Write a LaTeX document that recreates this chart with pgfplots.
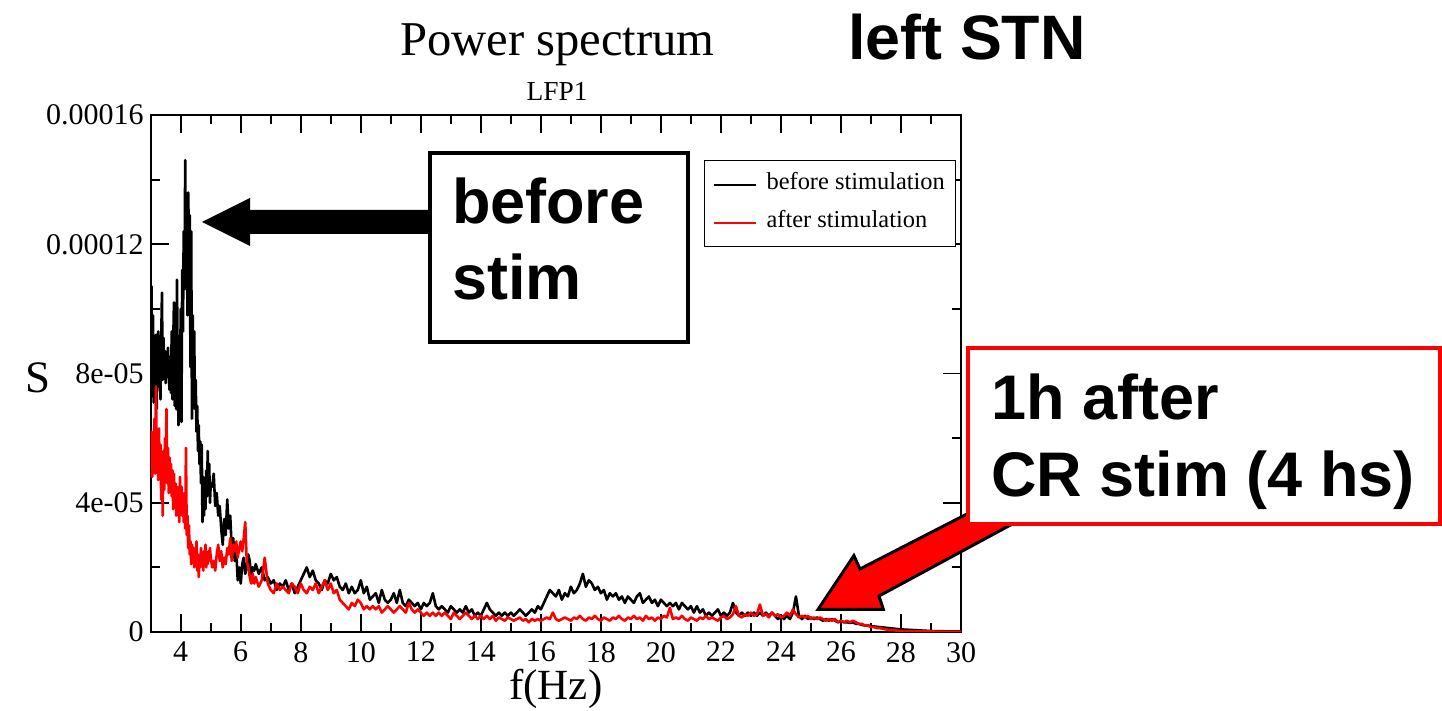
\documentclass[border=0pt]{standalone}
\usepackage{pgfplots}
\pgfplotsset{compat=1.18}
\usepackage{pgfplotstable}
\usepackage{fontspec}
\setmainfont{Liberation Serif}
\newfontfamily\arial{Liberation Sans}

% S in units of 1e-05
\pgfplotstableread{
f s
3.000 9.5
3.025 10.7
3.050 7.3
3.075 9.8
3.100 7.1
3.125 8.9
3.150 7.4
3.175 9.2
3.200 6.9
3.225 8.6
3.250 9.3
3.275 7.6
3.300 8.4
3.325 7.2
3.350 9.0
3.375 10.5
3.400 7.8
3.425 9.1
3.450 8.0
3.475 8.7
3.500 7.7
3.525 8.6
3.550 7.9
3.575 8.8
3.600 8.1
3.625 7.5
3.650 8.5
3.675 7.4
3.700 9.3
3.725 7.2
3.750 8.9
3.775 10.2
3.800 7.0
3.825 9.5
3.850 6.9
3.875 10.9
3.900 8.3
3.925 6.4
3.950 9.0
3.975 7.1
4.000 10.0
4.025 6.5
4.050 11.2
4.075 9.3
4.100 12.4
4.125 10.6
4.150 14.6
4.175 11.5
4.200 12.8
4.225 9.8
4.250 13.6
4.275 12.0
4.300 12.9
4.325 8.2
4.350 12.4
4.375 6.6
4.400 9.8
4.425 7.4
4.450 9.3
4.475 6.9
4.500 7.8
4.525 6.2
4.550 7.0
4.575 5.6
4.600 6.4
4.625 5.2
4.650 5.9
4.675 4.6
4.700 5.8
4.725 3.4
4.750 4.8
4.775 3.6
4.800 4.4
4.825 3.8
4.850 5.0
4.875 4.2
4.900 5.6
4.925 4.3
4.950 5.2
4.975 4.0
5.000 4.6
5.05 4.5
5.10 4.9
5.15 3.9
5.20 4.3
5.25 3.6
5.30 3.9
5.35 3.2
5.40 2.7
5.45 3.5
5.50 3.0
5.55 4.1
5.60 3.2
5.65 3.6
5.70 2.6
5.75 2.9
5.80 2.2
5.85 2.5
5.90 1.6
5.95 2.0
6.00 1.5
6.05 2.1
6.10 2.3
6.15 1.8
6.20 2.0
6.25 2.4
6.30 2.2
6.35 1.7
6.40 2.0
6.45 1.9
6.50 2.1
6.6 1.8
6.7 2.0
6.8 1.6
6.9 1.7
7.0 1.5
7.1 1.6
7.2 1.3
7.3 1.5
7.4 1.4
7.5 1.6
7.6 1.3
7.7 1.5
7.8 1.2
7.9 1.4
8.0 1.6
8.1 1.8
8.2 2.0
8.3 1.7
8.4 1.9
8.5 1.6
8.6 1.5
8.7 1.3
8.8 1.6
8.9 1.5
9.0 1.8
9.1 1.6
9.2 1.7
9.3 1.4
9.4 1.3
9.5 1.5
9.6 1.2
9.7 1.4
9.8 1.2
9.9 1.3
10.0 1.6
10.1 1.2
10.2 1.4
10.3 1.0
10.4 1.1
10.5 1.2
10.6 0.9
10.7 1.3
10.8 1.0
10.9 0.9
11.0 1.0
11.1 1.2
11.2 0.9
11.3 1.3
11.4 0.9
11.5 0.8
11.6 1.0
11.7 0.9
11.8 0.8
11.9 0.9
12.0 0.7
12.1 0.9
12.2 0.8
12.3 0.9
12.4 1.2
12.5 0.8
12.6 0.7
12.7 0.8
12.8 0.7
12.9 0.6
13.0 0.8
13.1 0.7
13.2 0.6
13.3 0.7
13.4 0.6
13.5 0.8
13.6 0.6
13.7 0.7
13.8 0.5
13.9 0.6
14.0 0.5
14.1 0.7
14.2 0.9
14.3 0.7
14.4 0.6
14.5 0.5
14.6 0.6
14.7 0.5
14.8 0.6
14.9 0.5
15.0 0.6
15.1 0.5
15.2 0.6
15.3 0.7
15.4 0.6
15.5 0.5
15.6 0.6
15.7 0.7
15.8 0.6
15.9 0.8
16.0 0.7
16.1 0.9
16.2 1.1
16.3 1.3
16.4 1.2
16.5 1.1
16.6 1.3
16.7 1.0
16.8 1.2
16.9 1.1
17.0 1.4
17.1 1.2
17.2 1.3
17.3 1.5
17.4 1.8
17.5 1.4
17.6 1.6
17.7 1.5
17.8 1.3
17.9 1.4
18.0 1.2
18.1 1.3
18.2 1.0
18.3 1.2
18.4 1.1
18.5 1.2
18.6 1.0
18.7 1.1
18.8 0.9
18.9 1.1
19.0 1.0
19.1 0.9
19.2 1.1
19.3 1.2
19.4 0.9
19.5 1.0
19.6 1.1
19.7 0.9
19.8 1.0
19.9 0.8
20.0 1.0
20.1 0.9
20.2 0.8
20.3 0.9
20.4 0.8
20.5 0.9
20.6 0.7
20.7 0.9
20.8 0.8
20.9 0.7
21.0 0.8
21.1 0.6
21.2 0.8
21.3 0.6
21.4 0.7
21.5 0.5
21.6 0.6
21.7 0.5
21.8 0.6
21.9 0.7
22.0 0.5
22.1 0.6
22.2 0.5
22.3 0.6
22.4 0.9
22.5 0.6
22.6 0.5
22.7 0.6
22.8 0.5
22.9 0.6
23.0 0.5
23.1 0.6
23.2 0.5
23.3 0.6
23.4 0.5
23.5 0.6
23.6 0.5
23.7 0.6
23.8 0.5
23.9 0.4
24.0 0.5
24.1 0.4
24.2 0.5
24.3 0.4
24.4 0.6
24.5 1.1
24.6 0.5
24.7 0.4
24.8 0.5
24.9 0.4
25.0 0.45
25.1 0.4
25.2 0.45
25.3 0.4
25.4 0.35
25.5 0.4
25.6 0.35
25.7 0.4
25.8 0.35
25.9 0.3
26.0 0.35
26.1 0.3
26.2 0.3
26.3 0.28
26.4 0.3
26.5 0.25
26.6 0.25
26.7 0.22
26.8 0.2
26.9 0.2
27.0 0.18
27.2 0.16
27.4 0.14
27.6 0.12
27.8 0.1
28.0 0.08
28.2 0.07
28.4 0.06
28.6 0.05
28.8 0.04
29.0 0.03
29.5 0.02
30.0 0.02
}\beforedata

\pgfplotstableread{
f s
3.000 5.0
3.025 6.2
3.050 4.8
3.075 5.9
3.100 5.1
3.125 6.6
3.150 4.9
3.175 7.6
3.200 5.3
3.225 6.0
3.250 4.7
3.275 6.3
3.300 5.0
3.325 5.8
3.350 4.1
3.375 5.5
3.400 3.6
3.425 5.6
3.450 4.4
3.475 6.0
3.500 4.8
3.525 6.9
3.550 4.6
3.575 5.7
3.600 4.3
3.625 5.4
3.650 4.5
3.675 5.2
3.700 4.2
3.725 5.0
3.750 3.8
3.775 4.9
3.800 4.0
3.825 4.6
3.850 3.6
3.875 4.5
3.900 3.7
3.925 4.2
3.950 3.4
3.975 4.8
4.000 3.9
4.025 4.5
4.050 3.6
4.075 4.3
4.100 3.4
4.125 4.0
4.150 3.2
4.175 5.7
4.200 3.0
4.225 3.6
4.250 2.6
4.275 3.3
4.300 2.4
4.325 2.8
4.350 2.1
4.375 2.7
4.400 2.3
4.425 2.6
4.450 2.0
4.475 2.5
4.500 2.2
4.525 2.8
4.550 1.9
4.575 2.4
4.600 1.7
4.625 2.2
4.650 2.0
4.675 2.6
4.700 2.1
4.725 2.3
4.750 1.9
4.775 2.5
4.800 2.2
4.825 2.7
4.850 2.0
4.875 2.4
4.900 2.1
4.925 2.5
4.950 2.2
4.975 2.6
5.000 2.3
5.05 2.0
5.10 2.2
5.15 1.9
5.20 2.4
5.25 2.7
5.30 2.2
5.35 2.5
5.40 2.0
5.45 2.3
5.50 2.1
5.55 2.6
5.60 2.4
5.65 2.9
5.70 2.2
5.75 2.7
5.80 2.5
5.85 2.8
5.90 2.3
5.95 2.6
6.00 2.8
6.05 2.5
6.10 2.9
6.15 3.4
6.20 2.2
6.25 2.0
6.30 1.7
6.35 1.5
6.40 1.8
6.45 1.5
6.50 1.7
6.6 1.4
6.7 1.6
6.8 2.3
6.9 1.5
7.0 1.3
7.1 1.2
7.2 1.5
7.3 1.3
7.4 1.4
7.5 1.3
7.6 1.2
7.7 1.5
7.8 1.4
7.9 1.2
8.0 1.5
8.1 1.3
8.2 1.2
8.3 1.4
8.4 1.3
8.5 1.5
8.6 1.2
8.7 1.4
8.8 1.6
8.9 1.3
9.0 1.5
9.1 1.2
9.2 1.3
9.3 1.0
9.4 0.9
9.5 0.8
9.6 0.7
9.7 0.9
9.8 0.8
9.9 1.0
10.0 0.9
10.1 0.7
10.2 0.8
10.3 0.7
10.4 0.8
10.5 0.7
10.6 0.8
10.7 0.6
10.8 0.7
10.9 0.8
11.0 0.7
11.1 0.6
11.2 0.7
11.3 0.8
11.4 0.7
11.5 0.6
11.6 0.9
11.7 0.7
11.8 0.6
11.9 0.7
12.0 0.6
12.1 0.5
12.2 0.6
12.3 0.5
12.4 0.6
12.5 0.5
12.6 0.6
12.7 0.5
12.8 0.6
12.9 0.5
13.0 0.4
13.1 0.6
13.2 0.5
13.3 0.4
13.4 0.5
13.5 0.6
13.6 0.5
13.7 0.4
13.8 0.5
13.9 0.4
14.0 0.5
14.1 0.4
14.2 0.5
14.3 0.4
14.4 0.5
14.5 0.35
14.6 0.45
14.7 0.4
14.8 0.35
14.9 0.45
15.0 0.4
15.1 0.35
15.2 0.4
15.3 0.45
15.4 0.35
15.5 0.4
15.6 0.3
15.7 0.4
15.8 0.35
15.9 0.4
16.0 0.35
16.1 0.4
16.2 0.45
16.3 0.4
16.4 0.6
16.5 0.4
16.6 0.35
16.7 0.4
16.8 0.45
16.9 0.4
17.0 0.35
17.1 0.45
17.2 0.4
17.3 0.5
17.4 0.4
17.5 0.35
17.6 0.45
17.7 0.4
17.8 0.5
17.9 0.4
18.0 0.35
18.1 0.45
18.2 0.4
18.3 0.35
18.4 0.45
18.5 0.4
18.6 0.5
18.7 0.4
18.8 0.35
18.9 0.45
19.0 0.4
19.1 0.5
19.2 0.4
19.3 0.45
19.4 0.35
19.5 0.5
19.6 0.4
19.7 0.45
19.8 0.35
19.9 0.45
20.0 0.4
20.1 0.5
20.2 0.45
20.3 0.75
20.4 0.4
20.5 0.45
20.6 0.4
20.7 0.5
20.8 0.4
20.9 0.35
21.0 0.45
21.1 0.4
21.2 0.35
21.3 0.45
21.4 0.4
21.5 0.5
21.6 0.4
21.7 0.45
21.8 0.4
21.9 0.35
22.0 0.45
22.1 0.5
22.2 0.4
22.3 0.45
22.4 0.55
22.5 0.8
22.6 0.5
22.7 0.45
22.8 0.55
22.9 0.5
23.0 0.6
23.1 0.5
23.2 0.55
23.3 0.85
23.4 0.5
23.5 0.55
23.6 0.45
23.7 0.6
23.8 0.5
23.9 0.55
24.0 0.45
24.1 0.5
24.2 0.6
24.3 0.5
24.4 0.7
24.5 0.55
24.6 0.45
24.7 0.5
24.8 0.45
24.9 0.5
25.0 0.4
25.1 0.45
25.2 0.4
25.3 0.45
25.4 0.4
25.5 0.35
25.6 0.4
25.7 0.35
25.8 0.4
25.9 0.3
26.0 0.35
26.1 0.3
26.2 0.35
26.3 0.3
26.4 0.35
26.5 0.3
26.6 0.25
26.7 0.25
26.8 0.2
26.9 0.2
27.0 0.15
27.1 0.15
27.2 0.12
27.3 0.12
27.4 0.1
27.5 0.08
27.6 0.07
27.7 0.06
27.8 0.05
27.9 0.04
28.0 0.03
28.5 0.02
29.0 0.015
29.5 0.01
30.0 0.01
}\afterdata

\begin{document}
\begin{tikzpicture}[x=1pt,y=1pt]
\path[use as bounding box] (0,0) rectangle (721,355.5);
\begin{axis}[
  scale only axis,
  width=405.15pt, height=258.5pt,
  at={(75.35pt,39.5pt)}, anchor=south west,
  xmin=3, xmax=30, ymin=0, ymax=16,
  axis line style={line width=0.9pt},
  tick pos=both, tick align=inside,
  major tick length=9pt, minor tick length=4.5pt,
  every tick/.style={line width=0.9pt, black},
  xtick={4,6,8,10,12,14,16,18,20,22,24,26,28,30},
  xticklabels={4,6,8,10,12,14,16,18,20,22,24,26,28,30},
  minor xtick={3,5,7,9,11,13,15,17,19,21,23,25,27,29},
  ytick={0,4,8,12,16},
  yticklabels={0,4e-05,8e-05,0.00012,0.00016},
  minor ytick={2,6,10,14},
  ticklabel style={font=\fontsize{15}{18}\selectfont},
  xticklabel style={yshift=-1.5pt},
  xlabel={f(Hz)},
  every axis x label/.style={at={(rel axis cs:0.5,0)}, anchor=base, yshift=-34pt, font=\fontsize{21.5}{25}\selectfont},
  ylabel={S},
  every axis y label/.style={at={(rel axis cs:0,0.491)}, anchor=center, xshift=-56.35pt, font=\fontsize{22.5}{26}\selectfont},
  legend style={at={(rel axis cs:0.683,0.913)}, anchor=north west,
    draw=black, line width=0.5pt, inner xsep=4pt, inner ysep=6pt,
    row sep=6.8pt, column sep=3.5pt,
    font=\fontsize{12.2}{14}\selectfont,
    nodes={inner sep=1.5pt, text height=0.72em, text depth=0.2em}},
  legend cell align=left,
  legend image code/.code={\draw[#1, line width=1pt] (0pt,0pt) -- (21pt,0pt);},
]
\addplot[black, line width=1.3pt, line join=round] table[x=f, y=s] {\beforedata};
\addlegendentry{before stimulation}
\addplot[red, line width=1.3pt, line join=round] table[x=f, y=s] {\afterdata};
\addlegendentry{after stimulation}
\end{axis}

% titles
\node[anchor=base, inner sep=0, font=\fontsize{24.3}{28}\selectfont] at (278.75,327.5) {Power spectrum};
\node[anchor=base, inner sep=0, font=\fontsize{13.7}{16}\selectfont] at (278.5,305) {LFP1};
\node[anchor=base west, inner sep=0, font=\arial\bfseries\fontsize{31.4}{36}\selectfont] at (424,325.5) {left STN};

% black arrow and box
\fill[black] (101,244.5) -- (125,256.5) -- (125,250.5) -- (217,250.5) -- (217,238.5) -- (125,238.5) -- (125,232.5) -- cycle;
\draw[black, line width=2pt, fill=white] (215,184.7) rectangle (344,279);
\node[anchor=base west, inner sep=0, font=\arial\bfseries\fontsize{31.5}{36}\selectfont] at (225.8,243.85) {before};
\node[anchor=base west, inner sep=0, font=\arial\bfseries\fontsize{31.5}{36}\selectfont] at (225.8,205.5) {stim};

% red arrow and box
\filldraw[fill=red, draw=black, line width=1.5pt, line join=miter] (409,50.75) -- (441.7,50.75) -- (439.5,57.5) -- (520.6,101.3) -- (500,107) -- (430,71) -- (426.95,77.7) -- cycle;
\draw[red, line width=2pt, fill=white] (484,93.7) rectangle (720,181.25);
\node[anchor=base west, inner sep=0, font=\arial\bfseries\fontsize{31.5}{36}\selectfont] at (495.5,145.9) {1h after};
\node[anchor=base west, inner sep=0, font=\arial\bfseries\fontsize{31.5}{36}\selectfont] at (495.5,107.15) {CR stim (4 hs)};
\end{tikzpicture}
\end{document}
